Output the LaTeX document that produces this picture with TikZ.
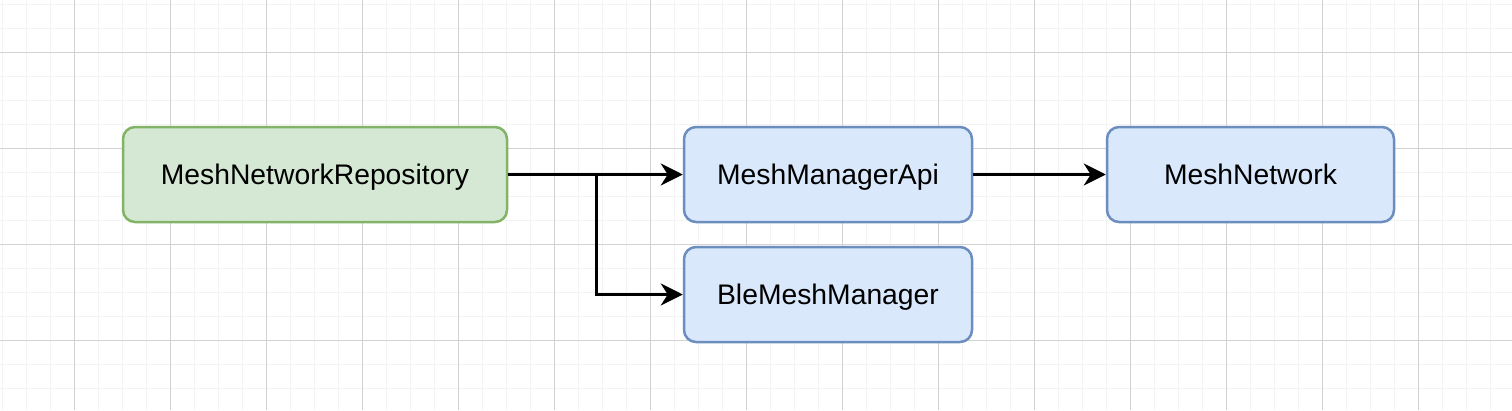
\documentclass[tikz,border=0pt]{standalone}
\usepackage{fontspec}
\setmainfont{Liberation Sans}
\usetikzlibrary{arrows.meta}
\definecolor{minorgrid}{HTML}{F3F3F3}
\definecolor{majorgrid}{HTML}{D2D2D2}
\definecolor{gfill}{HTML}{D5E8D4}
\definecolor{gdraw}{HTML}{82B366}
\definecolor{bfill}{HTML}{DAE8FC}
\definecolor{bdraw}{HTML}{6C8EBF}
\tikzset{
  box/.style={rounded corners=12pt, line width=2.5pt, inner sep=0pt,
    minimum height=95pt, text height=22pt, text depth=2pt,
    font=\fontsize{28.3}{33}\selectfont},
  gbox/.style={box, draw=gdraw, fill=gfill, minimum width=384pt},
  bbox/.style={box, draw=bdraw, fill=bfill, minimum width=288pt},
  arr/.style={line width=3pt, -{Stealth[length=22pt, width=22pt, inset=7pt]}},
}
\begin{document}
\begin{tikzpicture}[x=1pt, y=-1pt]
\useasboundingbox (0,0) rectangle (1512,410);
\fill[white] (0,0) rectangle (1512,410);
\foreach \i in {0,...,62} \draw[minorgrid, line width=1pt] ({2+24*\i},0) -- ({2+24*\i},410);
\foreach \i in {0,...,16} \draw[minorgrid, line width=1pt] (0,{4+24*\i}) -- (1512,{4+24*\i});
\foreach \i in {0,...,15} \draw[majorgrid, line width=1pt] ({74+96*\i},0) -- ({74+96*\i},410);
\foreach \i in {0,...,3} \draw[majorgrid, line width=1pt] (0,{52+96*\i}) -- (1512,{52+96*\i});
\node[gbox] (repo) at (315,174.5) {MeshNetworkRepository};
\node[bbox] (api) at (828,174.5) {MeshManagerApi};
\node[bbox] (ble) at (828,294.5) {BleMeshManager};
\node[bbox, minimum width=287pt] (net) at (1250.5,174.5) {MeshNetwork};
\coordinate (br) at (596,174.5);
\draw[arr] (repo.east) -- (api.west);
\draw[arr] (br) |- (ble.west);
\draw[arr] (api.east) -- (net.west);
\end{tikzpicture}
\end{document}
